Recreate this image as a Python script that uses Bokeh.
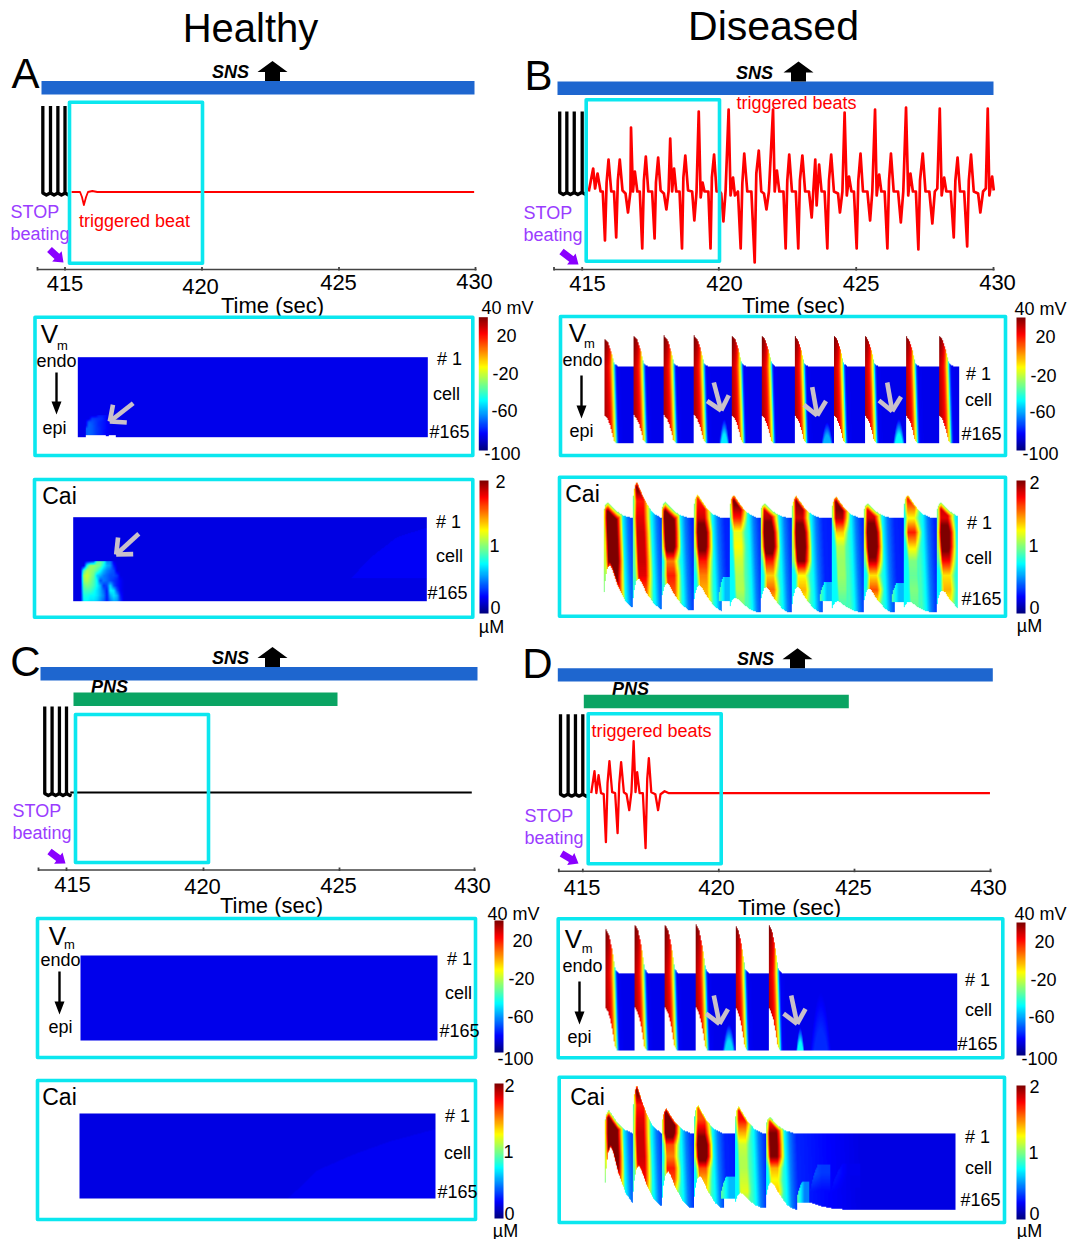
import numpy as np
from bokeh.plotting import figure
from bokeh.models import Range1d, LinearColorMapper
from bokeh.core.properties import value
from bokeh.embed import file_html
from bokeh.resources import INLINE

FONT = value("Liberation Sans")
CYAN, BLUE, GREEN, RED = "#0be7ef", "#1e66cf", "#0aa463", "#ff0000"
PURPLE, PURPLE2, GRAY = "#9a3cff", "#8a00ff", "#c9c0c9"

# ---------- data ----------
TIME_TICKS = [415, 420, 425, 430]
VM_TICKS = ["40 mV", "20", "-20", "-60", "-100"]
CAI_TICKS = ["2", "1", "0", "µM"]

SPIKES_A = [-0.81, -0.53, -0.26, 0.0]
SPIKES_B = [-0.82, -0.56, -0.29, 0.0]
SPIKES_C = [-0.80, -0.53, -0.26, 0.0]
SPIKES_D = [-0.82, -0.54, -0.27, 0.0]

TRACE_A_T = [0.24, 0.27, 0.55, 0.62, 0.69, 0.77, 0.84, 1.0, 1.18, 14.95]
TRACE_A_V = [0, 0, 0, -5, -13, -5, 0, 1, 0, 0]
TRACE_C_T = [0.14, 14.9]
TRACE_C_V = [0, 0]
TRACE_D_T = [0.31, 0.43, 0.50, 0.58, 0.67, 0.77, 0.85, 0.91, 0.98, 1.08, 1.19, 1.28, 1.34, 1.41, 1.51, 1.61, 1.71,
             1.79, 1.87, 1.94, 2.00, 2.09, 2.21, 2.31, 2.37, 2.43, 2.52, 2.67, 2.77, 2.86, 3.01, 3.17, 3.35, 14.98]
TRACE_D_V = [0, 22, 0, 18, 0, -1, -49, 10, 32, 1, 0, -40, 9, 31, 1, -1, -17,
             1, 52, 1, 21, 0, 0, -55, 14, 35, 1, -1, -17, -1, 2, 0, 0, 0]
TRACE_B_T = [0.24, 0.40, 0.47, 0.56, 0.67, 0.75, 0.83, 0.89, 0.96, 1.06, 1.16, 1.24, 1.30, 1.37, 1.47, 1.58, 1.67,
             1.76, 1.78, 1.85, 1.92, 2.01, 2.10, 2.19, 2.25, 2.32, 2.41, 2.55, 2.64, 2.69, 2.77, 2.86, 2.98, 3.07,
             3.15, 3.21, 3.28, 3.35, 3.43, 3.55, 3.64, 3.69, 3.76, 3.86, 4.01, 4.09, 4.17, 4.25, 4.32, 4.39, 4.46,
             4.60, 4.68, 4.73, 4.81, 4.90, 5.02, 5.07, 5.15, 5.23, 5.34, 5.41, 5.50, 5.57, 5.68, 5.78, 5.84, 5.91,
             6.02, 6.17, 6.29, 6.35, 6.44, 6.53, 6.63, 6.72, 6.81, 6.96, 7.02, 7.10, 7.19, 7.34, 7.42, 7.48, 7.55,
             7.65, 7.79, 7.88, 7.94, 8.03, 8.13, 8.27, 8.37, 8.43, 8.50, 8.55, 8.64, 8.73, 8.84, 8.94, 9.00, 9.08,
             9.18, 9.33, 9.40, 9.49, 9.57, 9.65, 9.73, 9.82, 9.91, 10.01, 10.07, 10.15, 10.24, 10.40, 10.50, 10.58,
             10.68, 10.74, 10.83, 10.91, 11.03, 11.13, 11.19, 11.26, 11.36, 11.52, 11.62, 11.71, 11.81, 11.89, 11.97,
             12.06, 12.17, 12.26, 12.32, 12.42, 12.52, 12.66, 12.77, 12.86, 12.95, 13.04, 13.11, 13.20, 13.28, 13.44,
             13.55, 13.61, 13.69, 13.78, 13.93, 14.04, 14.10, 14.18, 14.28, 14.44, 14.52, 14.62, 14.72, 14.79, 14.85,
             14.95, 15.01]
TRACE_B_V = [0, 23, 3, 18, 0, 0, -49, 9, 32, 0, 0, -46, 11, 32, 1, -2, -21,
             0, 64, 0, 20, 0, 0, -57, 11, 35, 0, 0, -47, 9, 34, 1, -2, -18,
             0, 53, 0, 23, 0, 0, -57, 14, 36, 1, 0, -29, 0, 80, -6, 9, 0,
             0, -57, 14, 37, 0, 0, -2, -30, 1, 82, -4, 14, -4, 0, -57, 8, 38,
             0, 0, -71, 18, 41, 0, -2, -18, 0, 82, 0, 21, 0, 0, -57, 11, 37,
             0, 0, -57, 11, 36, 0, 0, -26, 1, 32, -14, 27, 0, 0, -57, 11, 37,
             0, -2, -21, 0, 79, -4, 15, 0, 0, -57, 11, 38, 0, 0, -29, 0,
             82, -4, 17, 0, 0, -57, 11, 38, 0, 0, -31, 0, 84, -4, 18,
             0, 0, -58, 11, 38, 0, 0, -32, 0, 3, 83, -4, 14, 0, 0,
             -46, 11, 34, 0, 0, -55, 11, 37, 0, -2, -21, 0, 3, 83, -4,
             15, 1]

# membrane potential map: one action potential, by time after its onset (s)
VM_D = [0, 0.07, 0.14, 0.2, 0.26, 0.3, 0.34, 0.38, 0.41, 0.45, 0.51, 0.7]
VM_V = [32, 29, 25, 19, 8, -5, -15, -30, -50, -70, -83, -85]
VM_TOP_D = [0, 0.14, 0.28, 0.42, 0.54, 0.7]
VM_TOP_P = [1, 0.88, 0.55, 0.1, 0.02, 0]
VM_BOT_D = [0, 0.113, 0.21, 0.31, 0.39, 0.49]
VM_BOT_Q = [1, 0.88, 0.7, 0.4, 0.1, 0]
VM_B_ONSET = [0, 1.24, 2.51, 3.78, 5.37, 6.63, 8.01, 9.67, 10.97, 12.70, 14.11]
VM_B_PEAK = [59, 66, 66, 66, 66, 66, 66, 66, 66, 66, 66]
VM_B_NOTCH = 60
VM_D_ONSET = [0, 1.25, 2.53, 3.84, 5.52, 6.93]
VM_D_PEAK = [96, 105, 105, 107, 105, 107]
VM_D_NOTCH = 93
# triggered bumps: start, end, height in cells, peak mV
VM_B_BUMPS = [(4.84, 5.26, 52, -50), (9.14, 9.63, 45, -58), (12.17, 12.66, 52, -48)]
VM_D_BUMPS = [(4.98, 5.52, 57, -52), (8.1, 8.46, 50, -48), (8.7, 9.6, 125, -77)]

# calcium map
CAI_TOP_D = [0, 0.07, 0.17, 0.35, 0.56, 0.84, 1.2]
CAI_TOP_P = [0.5, 0.85, 1, 0.72, 0.42, 0.15, 0]
CAI_BOT_D = [0, 0.04, 0.14, 0.25, 0.35, 0.56, 0.9, 1.15]
CAI_BOT_Q = [0.27, 0.6, 0.92, 1, 0.9, 0.55, 0.15, 0]
CAI_CORE_D = [0, 0.08, 0.16, 0.45, 0.58, 0.72, 0.85, 0.97]
CAI_CORE_V = [0.5, 0.7, 1, 1, 0.8, 0.55, 0.2, 0]
CAI_TAIL_D = [0, 0.6, 0.8, 1.0, 1.15, 1.3, 1.7, 2.5, 3.5, 4.0]
CAI_TAIL_V = [0.75, 0.9, 0.75, 0.5, 0.4, 0.32, 0.3, 0.26, 0.22, 0.2]
CAI_RIM_DIST = [0, 3, 7, 12, 20]
CAI_RIM_CAP = [0.95, 1.15, 1.45, 1.8, 2.3]
CAI_ROWS = [-100, -60, -30, 0, 25, 50, 75, 100, 125, 150]
CAI_B_ONSET = [0, 1.23, 2.44, 3.81, 5.34, 6.64, 7.98, 9.67, 11.01, 12.71, 14.12]
CAI_B_PEAK = [28, 64, 28, 41, 41, 26, 39, 38, 26, 41, 28]
CAI_B_NOTCH = [80, 57, 50, 47, 25, 44, 44, 19, 41, 18, 38]
CAI_B_LIFT = [9, 6, 4, 2, 0, 0, 0, 0, 0, 0, 0]
CAI_B_RIM = [0, 0.5, 0, 0.3, 0.4, 0, 0.4, 0.4, 0, 0.3, 0]
CAI_B_R = [
    [2.2, 2.2, 2.2, 2.3, 2.3, 2.3, 2.3, 2.1, 2.0, 2.0],
    [2.2, 2.2, 1.7, 1.8, 1.85, 1.85, 1.85, 1.8, 1.6, 1.5],
    [2.2, 2.2, 2.2, 2.3, 2.3, 2.2, 1.5, 1.7, 1.6, 1.5],
    [1.7, 1.7, 1.7, 1.85, 2.2, 2.1, 1.7, 1.5, 1.4, 1.4],
    [2.1, 2.1, 2.1, 1.7, 1.2, 1.25, 1.15, 1.1, 1.1, 1.0],
    [1.7, 1.7, 1.7, 1.9, 2.25, 2.25, 1.7, 1.35, 1.55, 1.3],
    [2.1, 2.1, 2.0, 1.85, 2.2, 2.2, 2.0, 1.25, 1.4, 1.2],
    [2.1, 2.1, 2.1, 1.9, 1.35, 1.1, 1.05, 1.05, 1.0, 0.9],
    [1.7, 1.7, 1.7, 1.85, 2.25, 2.25, 1.9, 1.3, 1.6, 1.2],
    [1.75, 1.75, 1.7, 1.25, 1.7, 1.3, 1.0, 0.95, 1.0, 0.95],
    [1.9, 1.9, 1.9, 1.8, 2.2, 2.1, 1.75, 1.3, 1.4, 1.2],
]
CAI_D_ONSET = [0, 1.2, 2.45, 3.81, 5.55, 6.87]
CAI_D_PEAK = [50, 104, 54, 61, 58, 35]
CAI_D_NOTCH = [130, 92, 81, 72, 35, 55]
CAI_D_LIFT = [16, 9, 5, 4, 4, 4]
CAI_D_RIM = [0, 0.5, 0.5, 0.2, 0.2, 0]
CAI_D_R = [
    [2.2, 2.3, 2.3, 2.3, 2.3, 2.3, 2.2, 2.0, 2.0, 2.0],
    [2.25, 1.7, 1.8, 1.85, 1.85, 1.85, 1.8, 1.75, 1.6, 1.5],
    [2.3, 2.3, 2.3, 2.2, 1.6, 1.5, 1.7, 1.6, 1.3, 1.2],
    [1.6, 1.6, 1.6, 1.9, 2.25, 2.2, 1.6, 1.4, 1.3, 1.2],
    [1.8, 1.8, 1.75, 1.4, 1.15, 1.1, 1.1, 1.15, 1.2, 1.0],
    [1.5, 1.5, 1.6, 2.0, 2.05, 2.0, 1.4, 1.25, 1.35, 1.1],
]
# early Ca bumps: start, end, top height, bottom height, left value, right value
CAI_B_BUMPS = [(4.87, 5.34, 62, 19, 0.95, 0.62), (9.15, 9.67, 53, 20, 0.95, 0.62), (12.19, 12.71, 51, 17, 0.95, 0.62)]
CAI_D_BUMPS = [(4.95, 5.55, 72, 24, 0.95, 0.62), (8.2, 8.73, 60, 16, 0.95, 0.5), (8.73, 9.6, 96, 14, 0.45, 0.36),
               (9.6, 10.9, 98, 10, 0.34, 0.22)]
CAI_D_FLOOR_T = [8.2, 8.75, 9.2, 9.8, 10.5]
CAI_D_FLOOR_H = [16, 16, 8, 2, 0]

# healthy, panel A, the one small wave
VM_A_T = [0.33, 0.47, 0.61, 0.76, 0.90, 1.04, 1.19, 1.33, 1.47, 1.62]
VM_A_H = [0, 2, 5, 17, 24, 30.8, 37.7, 44.5]
n = np.nan
VM_A_TABLE = [
    [n, n, n, n, n, n, n, -85, n, -85],
    [n, n, n, n, n, n, -84, -85, n, -85],
    [-70, -68, -70, -74, -77, -79, -82, -84, -85, -85],
    [-70, -68, -70, -74, -76, -79, -81, -83, -85, -85],
    [-85, -68, -70, -74, -77, -79, -81, -83, -85, -85],
    [-85, -70, -71, -74, -77, -79, -81, -84, -85, -85],
    [-85, -85, -74, -75, -76, -77, -81, -84, -85, -85],
    [-85, -85, -85, -85, -79, -79, -81, -85, -85, -85],
]
CAI_A_T = [0.31, 0.45, 0.59, 0.73, 0.87, 1.01, 1.15, 1.29, 1.43, 1.57, 1.72, 1.86, 2.0, 2.15, 2.29]
CAI_A_H = [1, 10.75, 20.5, 30.25, 40, 49.75, 59.5, 69.25, 79]
CAI_A_TABLE = [
    [.2, .75, .75, .7, .7, .65, .55, .45, .3, .5, .6, .55, .35, .2, .2],
    [.2, .8, .8, .75, .75, .7, .6, .5, .3, .6, .7, .6, .3, .2, .2],
    [.2, .88, .88, .88, .8, .7, .6, .45, .3, .75, .7, .4, .25, .2, .2],
    [.2, .95, 1.0, .95, .88, .75, .6, .35, .4, .7, .4, .3, .25, .2, .2],
    [.2, 1.05, 1.1, 1.0, .9, .75, .4, .5, .45, .4, .35, .3, .25, .2, .2],
    [.2, 1.1, 1.15, 1.05, .95, .65, .6, .5, .45, .4, .4, .35, .2, .2, .2],
    [.2, .9, 1.1, 1.05, 1.0, .9, .75, .6, .5, .45, .4, .2, .2, .2, .2],
    [.2, .2, .8, 1.05, 1.05, 1.0, .95, .75, .6, .55, .3, .2, .2, .2, .2],
    [.2, .2, .2, .2, .3, .9, .95, .85, .5, .5, .2, .2, .2, .2, .2],
]
ARC_A_T = [11.8, 12.6, 13.7, 15.0]
ARC_A_H = [47, 86, 125, 144]
ARC_C_T = [8.8, 10.0, 11.5, 13.0, 15.0]
ARC_C_H = [0, 54, 84, 109, 134]

# ---------- colour scale ----------
anchors = [0, 0.125, 0.375, 0.625, 0.875, 1]
R_ = np.interp(np.linspace(0, 1, 256), anchors, [0, 0, 0, 1, 1, 0.5])
G_ = np.interp(np.linspace(0, 1, 256), anchors, [0, 0, 1, 1, 0, 0])
B_ = np.interp(np.linspace(0, 1, 256), anchors, [0.5, 1, 1, 0, 0, 0])
JET = ["#%02x%02x%02x" % (int(r * 255), int(g * 255), int(b * 255)) for r, g, b in zip(R_, G_, B_)]
VM_MAP = LinearColorMapper(palette=JET, low=-100, high=40, nan_color="rgba(0,0,0,0)")
CAI_MAP = LinearColorMapper(palette=JET, low=0, high=2, nan_color="rgba(0,0,0,0)")

# ---------- canvas ----------
p = figure(width=1074, height=1239, x_range=Range1d(0, 1074), y_range=Range1d(-1239, 0),
           x_axis_type=None, y_axis_type=None, output_backend="svg", toolbar_location=None,
           min_border=0, outline_line_color=None)


def label(x, y, s, size=18, color="black", style="normal", align="center"):
    p.text(x=[x], y=[-y], text=[s], text_font=FONT, text_font_size=f"{size}px", text_color=color,
           text_font_style=style, text_align=align, text_baseline="middle")


def bar(x0, x1, y0, y1, color):
    p.quad(left=[x0], right=[x1], top=[-y0], bottom=[-y1], fill_color=color, line_color=None)


def box(x0, x1, y0, y1):
    p.quad(left=[x0], right=[x1], top=[-y0], bottom=[-y1], fill_color=None, line_color=CYAN,
           line_width=3.6, line_join="round")


def seg(x0, y0, x1, y1, color, w):
    p.line([x0, x1], [-y0, -y1], line_color=color, line_width=w, line_cap="butt")


def up_arrow(x, tip, base):
    p.patch([x, x + 15, x + 7.5, x + 7.5, x - 7.5, x - 7.5, x - 15],
            [-tip, -(tip + 11), -(tip + 11), -base, -base, -(tip + 11), -(tip + 11)],
            fill_color="black", line_color=None)


def solid_arrow(x0, y0, x1, y1, w, hw, hl, color):
    dx, dy = x1 - x0, y1 - y0
    L = np.hypot(dx, dy)
    ux, uy = dx / L, dy / L
    nx_, ny_ = -uy, ux
    bx, by = x1 - ux * hl, y1 - uy * hl
    xs = [x0 + nx_ * w / 2, bx + nx_ * w / 2, bx + nx_ * hw / 2, x1, bx - nx_ * hw / 2, bx - nx_ * w / 2, x0 - nx_ * w / 2]
    ys = [y0 + ny_ * w / 2, by + ny_ * w / 2, by + ny_ * hw / 2, y1, by - ny_ * hw / 2, by - ny_ * w / 2, y0 - ny_ * w / 2]
    p.patch(xs, [-v for v in ys], fill_color=color, line_color=None)


def gray_arrow(x0, y0, x1, y1):
    ang = np.arctan2(y0 - y1, x0 - x1)
    p.line([x0, x1], [-y0, -y1], line_color=GRAY, line_width=4.6)
    for da in (0.72, -0.72):
        p.line([x1 + 17 * np.cos(ang + da), x1], [-(y1 + 17 * np.sin(ang + da)), -y1],
               line_color=GRAY, line_width=4.6)


def trace_panel(x415, x430, base, spikes, top, t, v, color, axis_y, axis_x0, tick_px):
    sub = p.subplot(x_source=Range1d(415, 430), y_source=Range1d(-100, 100),
                    x_target=Range1d(x415, x430), y_target=Range1d(-(base + 100), -(base - 100)))
    for s in spikes:
        sub.line([415 + s, 415 + s, 415 + s + 0.13, 415 + s + 0.27 if s < 0 else 415 + 0.14],
                 [top, -1, -3, -1], line_color="black", line_width=3.3, line_join="round")
    w = 2.7 if len(t) > 100 else (2.3 if len(t) > 20 else 1.8)
    sub.line([415 + a for a in t], v, line_color=color, line_width=w, line_join="round")
    seg(axis_x0, axis_y, tick_px[-1] + 1, axis_y, "#444444", 1.6)
    for x in [axis_x0] + tick_px:
        seg(x, axis_y - 2.5, x, axis_y + 1, "#444444", 1.8)


def heat(xl, xr, yt, yb, G, hmax, mapper):
    pxc = (yb - yt) / 164
    sub = p.subplot(x_source=Range1d(415, 430), y_source=Range1d(0, hmax),
                    x_target=Range1d(xl, xr), y_target=Range1d(-yb, -(yb - hmax * pxc)))
    sub.image(image=[G], x=415, y=0, dw=15, dh=hmax, color_mapper=mapper)


def grid(xl, xr, yt, yb, hmax):
    pxc = (yb - yt) / 164
    nx, ny = int(round(xr - xl)), int(round(hmax * pxc))
    tt = (np.arange(nx) + 0.5) / nx * 15
    hh = (np.arange(ny) + 0.5) / ny * hmax
    return np.meshgrid(tt, hh)


def paint_table(G, T, H, t_axis, h_axis, tab):
    tab = np.array(tab, dtype=float)
    ix = np.interp(T, t_axis, np.arange(len(t_axis)))
    iy = np.interp(H, h_axis, np.arange(len(h_axis)))
    i0 = np.clip(np.floor(ix).astype(int), 0, len(t_axis) - 2)
    j0 = np.clip(np.floor(iy).astype(int), 0, len(h_axis) - 2)
    fx, fy = ix - i0, iy - j0
    vals = (tab[j0, i0] * (1 - fx) * (1 - fy) + tab[j0, i0 + 1] * fx * (1 - fy)
            + tab[j0 + 1, i0] * (1 - fx) * fy + tab[j0 + 1, i0 + 1] * fx * fy)
    m = (T >= t_axis[0]) & (T <= t_axis[-1]) & (H <= h_axis[-1])
    G[m] = vals[m]


def vm_beats(xl, xr, yt, yb, onset, peak, notch, bumps):
    hmax = 164 + max(peak) + 3
    T, H = grid(xl, xr, yt, yb, hmax)
    G = np.full(T.shape, np.nan)
    C = 164 - H
    for i, t0 in enumerate(onset):
        t1 = onset[i + 1] if i + 1 < len(onset) else 15.01
        m = (T >= t0) & (T < t1)
        d = T - t0
        top = 164 + peak[i] * np.interp(d, VM_TOP_D, VM_TOP_P)
        bot = notch * np.interp(d, VM_BOT_D, VM_BOT_Q)
        v = np.interp(d - 0.1 * np.clip(C, 0, None) / 164, VM_D, VM_V)
        v = v + 10 * np.clip(-C / peak[i], 0, 1) * (v > 0)
        edge = (bot > 0) & (d > 0.1)
        v = np.where(edge, np.maximum(v, -50 - 8 * (H - bot)), v)
        mm = m & (H <= top) & (H >= bot)
        G[mm] = v[mm]
    for t0, t1, hb, vp in bumps:
        c, w = (t0 + t1) / 2, (t1 - t0) / 2
        s = np.clip(1 - (np.abs(T - c) / w) ** 2 - H / hb, 0, 1)
        add = -85 + (vp + 85) * np.clip(s * 1.6, 0, 1)
        mm = (s > 0) & ~np.isnan(G)
        G[mm] = np.maximum(G[mm], add[mm])
    heat(xl, xr, yt, yb, G, hmax, VM_MAP)


def cai_beats(xl, xr, yt, yb, onset, peak, notch, lift, rim, rows, bumps, slant=0.16, floor=None):
    hmax = 164 + max(peak) + 3
    T, H = grid(xl, xr, yt, yb, hmax)
    G = np.full(T.shape, np.nan)
    C = 164 - H
    for i, t0 in enumerate(onset):
        t1 = onset[i + 1] if i + 1 < len(onset) else 15.01
        m = (T >= t0) & (T < t1)
        d = T - t0
        top = 164 + peak[i] * np.interp(d, CAI_TOP_D, CAI_TOP_P)
        bot = notch[i] * np.interp(d, CAI_BOT_D, CAI_BOT_Q) + lift[i] * np.clip(d / 1.0, 0, 1)
        if i + 1 == len(onset):
            bot = notch[i] * np.interp(d, CAI_BOT_D, CAI_BOT_Q) + lift[i] * np.clip(1.5 - d, 0, 1)
        de = d - slant * np.clip(C, 0, None) / 164
        core = np.interp(de, CAI_CORE_D, CAI_CORE_V) * np.interp(C, CAI_ROWS, rows[i])
        tail = np.interp(de, CAI_TAIL_D, CAI_TAIL_V)
        v = np.maximum(core, tail)
        cap = np.interp(top - H, CAI_RIM_DIST, CAI_RIM_CAP) + rim[i]
        v = np.minimum(v, cap)
        capb = np.interp(H - bot, [0, 5, 12], [1.5, 1.9, 2.4])
        v = np.minimum(v, capb)
        mm = m & (H <= top) & (H >= bot)
        G[mm] = v[mm]
    for t0, t1, ht, hb, v0, v1 in bumps:
        f = (T - t0) / (t1 - t0)
        edge = hb + (ht - hb) * np.sqrt(np.clip(f / 0.4, 0, 1))
        short = t1 - t0 < 0.7
        val = v0 + (v1 - v0) * np.clip(f / 0.6, 0, 1)
        if not short:
            mix = np.clip((H - hb) / (ht - hb) * 1.3, 0, 1)
            val = 0.2 + (val - 0.2) * mix
        inside = (f >= 0) & (f < 1) & (H <= edge) & (H >= hb)
        G[inside] = np.maximum(np.nan_to_num(G[inside], nan=0), val[inside])
        if short:
            G[(f >= 0.25) & (f < 1) & (H < hb)] = np.nan
    if floor is not None:
        G[H < np.interp(T, floor[0], floor[1], left=-1, right=-1)] = np.nan
    heat(xl, xr, yt, yb, G, hmax, CAI_MAP)


def vm_rest(xl, xr, yt, yb):
    T, H = grid(xl, xr, yt, yb, 164)
    return T, H, np.full(T.shape, -85.0)


def cai_rest(xl, xr, yt, yb):
    T, H = grid(xl, xr, yt, yb, 164)
    return T, H, np.full(T.shape, 0.2)


def colorbar(x0, x1, y0, y1, mapper):
    vals = np.linspace(mapper.low, mapper.high, 256).reshape(256, 1)
    sub = p.subplot(x_source=Range1d(0, 1), y_source=Range1d(mapper.low, mapper.high),
                    x_target=Range1d(x0, x1), y_target=Range1d(-y1, -y0))
    sub.image(image=[vals], x=0, y=mapper.low, dw=1, dh=mapper.high - mapper.low, color_mapper=mapper)


def time_labels(pos, tx, ty):
    for t, (x, y) in zip(TIME_TICKS, pos):
        label(x, y, str(t), 22)
    label(tx, ty, "Time (sec)", 22)


def header(letter, lx, ly, bar0, bar1, by, snsx, arrowx):
    label(lx, ly, letter, 42)
    bar(bar0, bar1, by, by + 13.4, BLUE)
    label(snsx, by - 9, "SNS", 18, style="bold italic")
    up_arrow(arrowx, by - 20, by)


def stop_text(x, y0, y1, a):
    label(x, y0, "STOP", 18, PURPLE, align="left")
    label(x, y1, "beating", 18, PURPLE, align="left")
    solid_arrow(a[0], a[1], a[2], a[3], 7, 14, 9, PURPLE2)


def vm_text(vx, vy, mx, my, ex, ey, ax, a0, a1, px, py, tx, ty):
    label(vx, vy, "V", 26)
    label(mx, my, "m", 13)
    label(ex, ey, "endo", 18)
    solid_arrow(ax, a0, ax, a1, 2.4, 10, 13, "black")
    label(px, py, "epi", 18)
    for s, x, y in zip(["# 1", "cell", "#165"], tx, ty):
        label(x, y, s, 18)


def cai_text(cx, cy, tx, ty):
    label(cx, cy, "Cai", 23)
    for s, x, y in zip(["# 1", "cell", "#165"], tx, ty):
        label(x, y, s, 18)


def vm_scale(x0, x1, y0, y1, pos):
    colorbar(x0, x1, y0, y1, VM_MAP)
    for s, (x, y) in zip(VM_TICKS, pos):
        label(x, y, s, 18)


def cai_scale(x0, x1, y0, y1, pos):
    colorbar(x0, x1, y0, y1, CAI_MAP)
    for s, (x, y) in zip(CAI_TICKS, pos):
        label(x, y, s, 18)


# ---------- titles ----------
label(250, 27, "Healthy", 40)
label(773, 25, "Diseased", 41)

# ---------- panel A ----------
header("A", 25, 73, 41, 474, 80.5, 230, 272)
trace_panel(64.5, 475, 191.5, SPIKES_A, 86, TRACE_A_T, TRACE_A_V, RED, 269, 37, [64.5, 201.5, 338.5, 475])
box(69, 202, 101.7, 262.7)
label(134, 220, "triggered beat", 18, RED)
stop_text(10, 211, 233, (49, 249, 63, 262))
time_labels([(64.5, 283), (200, 286), (338, 282), (474, 281)], 272, 305)
T, H, G = vm_rest(77.3, 427.3, 356.7, 436.7)
paint_table(G, T, H, VM_A_T, VM_A_H, VM_A_TABLE)
heat(77.3, 427.3, 356.7, 436.7, G, 164, VM_MAP)
box(34.5, 472.3, 316.7, 455)
vm_text(49, 333, 62, 345, 56, 360, 56, 372, 414, 54, 427, [449, 446, 449], [358, 393, 431])
gray_arrow(132.7, 402.7, 109.3, 421)
vm_scale(478.3, 487.3, 316.7, 450, [(507, 307), (506, 335), (505, 373), (504, 410), (502, 453)])
T, H, G = cai_rest(72.7, 426.3, 516.7, 600.7)
paint_table(G, T, H, CAI_A_T, CAI_A_H, CAI_A_TABLE)
arc = (T > ARC_A_T[0]) & (H < np.interp(T, ARC_A_T, ARC_A_H)) & (H > 44)
G[arc] = 0.24
heat(72.7, 426.3, 516.7, 600.7, G, 164, CAI_MAP)
box(34, 472.3, 479, 616.7)
cai_text(59, 495, [448, 449, 447], [521, 555, 592])
gray_arrow(138.3, 533.3, 115.7, 554)
cai_scale(479, 488, 480, 613, [(500, 481), (494, 545), (495, 607), (491, 626)])

# ---------- panel B ----------
header("B", 538, 75, 557, 993, 81, 754, 798)
trace_panel(581.7, 993, 191, SPIKES_B, 80, TRACE_B_T, TRACE_B_V, RED, 269, 553.5, [581.7, 718.3, 855.7, 993])
box(585.7, 719, 99.3, 260.7)
label(796, 102, "triggered beats", 18, RED)
stop_text(523, 212, 234, (561, 251, 578, 264))
time_labels([(587, 283), (724, 283), (860.7, 283), (997, 282)], 793, 305)
vm_beats(604, 958.7, 366.7, 442.7, VM_B_ONSET, VM_B_PEAK, VM_B_NOTCH, VM_B_BUMPS)
box(560, 1005, 316, 455)
vm_text(577, 332, 589, 343, 582, 359, 581, 375, 418, 581, 430, [978, 978, 981], [373, 399, 433])
for a in [(713.3, 382, 720.7, 410), (811.7, 386.7, 816.7, 415), (886.7, 382, 891.7, 410.7)]:
    gray_arrow(*a)
vm_scale(1016, 1025, 317, 450, [(1040, 308), (1045, 336), (1043, 375), (1042, 411), (1040, 453)])
cai_beats(603.3, 957.3, 518.3, 611.7, CAI_B_ONSET, CAI_B_PEAK, CAI_B_NOTCH, CAI_B_LIFT, CAI_B_RIM, CAI_B_R, CAI_B_BUMPS)
box(559, 1005, 476.7, 615.7)
cai_text(582, 493, [979, 978, 981], [522, 557, 598])
cai_scale(1016, 1025, 480, 613, [(1034, 482), (1033, 545), (1034, 607), (1029, 625)])

# ---------- panel C ----------
header("C", 25, 661, 40, 477, 666.5, 230, 272)
label(109, 686, "PNS", 18, style="bold italic")
bar(73, 337, 692, 705.5, GREEN)
trace_panel(66, 474, 792, SPIKES_C, 86, TRACE_C_T, TRACE_C_V, "black", 869.5, 38, [66, 203, 339, 474])
box(75, 208, 714, 862)
stop_text(12, 810, 832, (49, 851, 65, 863))
time_labels([(72, 884), (202, 886), (338, 885), (472, 885)], 271, 905)
T, H, G = vm_rest(80, 437, 955, 1040)
heat(80, 437, 955, 1040, G, 164, VM_MAP)
box(37, 475, 918, 1057)
vm_text(57, 935, 69, 944, 60, 959, 59, 971, 1014, 60, 1026, [459, 458, 459], [958, 992, 1030])
vm_scale(494, 503, 920, 1052, [(513, 913), (522, 940), (521, 978), (520, 1016), (515, 1058)])
T, H, G = cai_rest(79, 435, 1113, 1198)
G[H < np.interp(T, ARC_C_T, ARC_C_H, left=-1)] = 0.23
heat(79, 435, 1113, 1198, G, 164, CAI_MAP)
box(37, 475, 1080, 1219)
cai_text(59, 1096, [457, 457, 457], [1115, 1152, 1191])
cai_scale(494, 503, 1083, 1218, [(509, 1085), (508, 1151), (509, 1213), (505, 1230)])

# ---------- panel D ----------
header("D", 537, 663, 557.3, 992.3, 667.7, 755, 797)
label(630, 688, "PNS", 18, style="bold italic")
bar(583.3, 848.3, 694.3, 707.7, GREEN)
trace_panel(582.3, 990, 792.7, SPIKES_D, 79, TRACE_D_T, TRACE_D_V, RED, 870.7, 558.3, [582.3, 718.3, 854, 990])
box(587.7, 720.7, 713.3, 863.3)
label(651, 730, "triggered beats", 18, RED)
stop_text(524, 815, 837, (561, 853, 578, 863))
time_labels([(581.7, 887), (716, 887), (853, 887), (988, 887)], 789, 907)
vm_beats(605, 956.7, 973.3, 1050, VM_D_ONSET, VM_D_PEAK, VM_D_NOTCH, VM_D_BUMPS)
box(557.7, 1002.3, 918.3, 1057.3)
vm_text(573, 938, 586.7, 948, 582, 965, 579, 981, 1024, 579, 1036, [977, 978, 977], [979, 1009, 1043])
gray_arrow(713.3, 995, 719, 1023.3)
gray_arrow(790.7, 995, 796.7, 1023.3)
vm_scale(1016, 1025, 922, 1055, [(1040, 913), (1044, 941), (1043, 979), (1041, 1016), (1039, 1058)])
cai_beats(604.3, 955, 1133.3, 1209.3, CAI_D_ONSET, CAI_D_PEAK, CAI_D_NOTCH, CAI_D_LIFT, CAI_D_RIM, CAI_D_R, CAI_D_BUMPS,
          slant=0.12, floor=(CAI_D_FLOOR_T, CAI_D_FLOOR_H))
box(558.7, 1004, 1076.7, 1222)
cai_text(587, 1096, [977, 978, 980], [1136, 1167, 1199])
cai_scale(1016, 1025, 1085, 1219, [(1034, 1086), (1033, 1152), (1034, 1213), (1029, 1230)])

open("out.html", "w").write(file_html(p, INLINE))
